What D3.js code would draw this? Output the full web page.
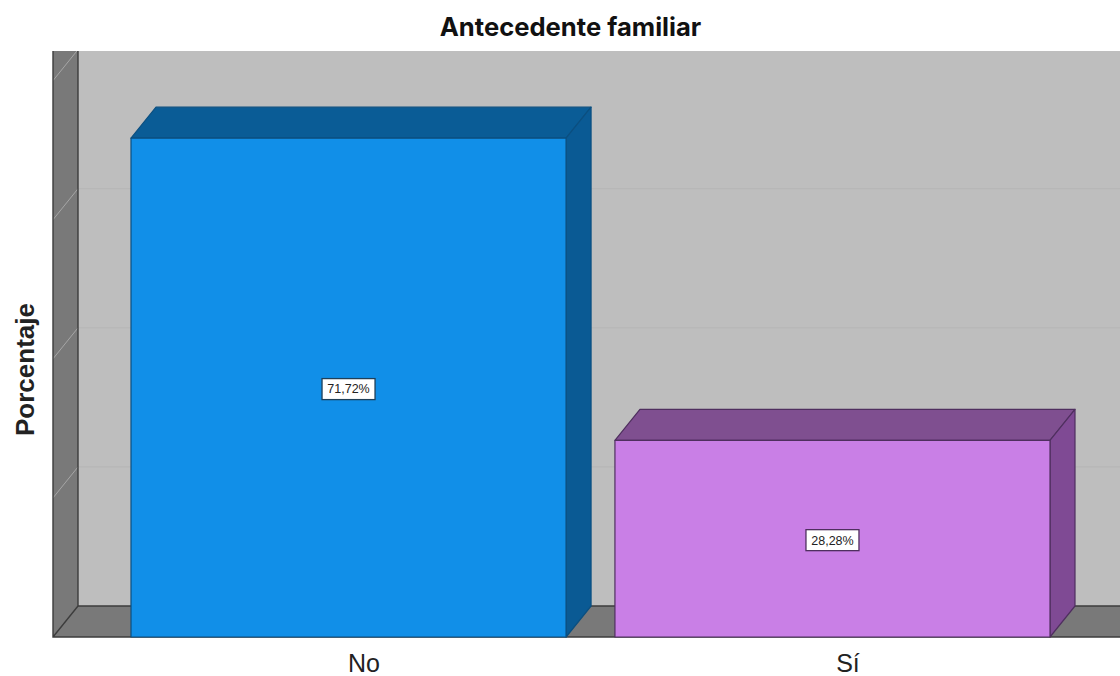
<!DOCTYPE html>
<html><head><meta charset="utf-8">
<script src="https://cdn.jsdelivr.net/npm/d3@7"></script>
<style>html,body{margin:0;padding:0;background:#fff}svg{display:block;font-family:"Liberation Sans",sans-serif}</style>
</head><body><div id="c"></div>
<script>
const categories = ["No", "Sí"];
const percentages = [71.72, 28.28];
const labels = ["71,72%", "28,28%"];
const gridValues = [20, 40, 60];
const wallTicks = [0, 20, 40, 60, 80];
const frontColors = ["#118fe8", "#c97fe6"];
const topColors = ["#0a5c96", "#7f4f90"];
const sideColors = ["#0a5a94", "#7f4a94"];
const edgeColors = ["#0b4f80", "#4f2f5f"];

const W = 1120, H = 676, dx = 25, dy = -31;
const svg = d3.select("#c").append("svg").attr("width", W).attr("height", H);
const x = d3.scaleBand().domain(categories).range([131, 1050]).paddingInner(0.101).paddingOuter(0);
const y = d3.scaleLinear().domain([0, 80]).range([637, 80.6]);
const wallTop = 51, x0 = 53, base = y(0);
const poly = pts => pts.map(p => p.join(",")).join(" ");

// back wall
svg.append("rect").attr("x", x0 + dx).attr("y", wallTop).attr("width", W - x0 - dx + 2).attr("height", base + dy - wallTop).attr("fill", "#bebebe");
svg.append("g").selectAll("line").data(gridValues).join("line")
  .attr("x1", x0 + dx).attr("x2", W).attr("y1", d => y(d) + dy).attr("y2", d => y(d) + dy)
  .attr("stroke", "#b6b6b6").attr("stroke-width", 1);
// left wall
svg.append("polygon").attr("points", poly([[x0, wallTop], [x0 + dx, wallTop], [x0 + dx, base + dy], [x0, base]])).attr("fill", "#797979");
svg.append("clipPath").attr("id", "wall").append("rect").attr("x", x0).attr("y", wallTop).attr("width", dx).attr("height", base - wallTop);
svg.append("g").attr("clip-path", "url(#wall)").selectAll("line").data(wallTicks.slice(1)).join("line")
  .attr("x1", x0).attr("x2", x0 + dx).attr("y1", d => y(d)).attr("y2", d => y(d) + dy)
  .attr("stroke", "#a6a6a6").attr("stroke-width", 1);
// floor
svg.append("polygon").attr("points", poly([[x0, base], [x0 + dx, base + dy], [W + 2, base + dy], [W + 2, base]])).attr("fill", "#797979");
const edge = "#3c3c3c";
svg.append("path").attr("fill", "none").attr("stroke", edge).attr("stroke-width", 1.4)
  .attr("d", `M${x0},${wallTop}V${base}H${W}M${x0},${base}L${x0 + dx},${base + dy}M${x0 + dx},${wallTop}V${base + dy}H${W}`);

// bars
const bars = svg.append("g").selectAll("g").data(categories).join("g");
bars.each(function (c, i) {
  const g = d3.select(this), l = x(c), r = l + x.bandwidth(), t = y(percentages[i]);
  const s = { stroke: edgeColors[i], "stroke-width": 1.2, "stroke-linejoin": "round" };
  const add = (pts, fill) => { const p = g.append("polygon").attr("points", poly(pts)).attr("fill", fill); Object.entries(s).forEach(([k, v]) => p.attr(k, v)); };
  add([[l, t], [l + dx, t + dy], [r + dx, t + dy], [r, t]], topColors[i]);
  add([[r, t], [r + dx, t + dy], [r + dx, base + dy], [r, base]], sideColors[i]);
  add([[l, t], [r, t], [r, base], [l, base]], frontColors[i]);
  const cx = (l + r) / 2, cy = (t + base) / 2 + 1.5;
  g.append("rect").attr("x", cx - 26.5).attr("y", cy - 10.5).attr("width", 53).attr("height", 21)
    .attr("fill", "#fff").attr("stroke", i === 0 ? "#1f3f58" : "#4f2f5f").attr("stroke-width", 1.3);
  g.append("text").attr("x", cx).attr("y", cy + 4.4).attr("text-anchor", "middle")
    .attr("font-size", 12.5).attr("fill", "#222").text(labels[i]);
  g.append("text").attr("x", cx + dx / 2 + 3).attr("y", 672).attr("text-anchor", "middle")
    .attr("font-size", 25).attr("fill", "#222").text(c);
});

svg.append("text").attr("x", 570.5).attr("y", 35.5).attr("text-anchor", "middle")
  .style("font-family", "Inter").attr("font-size", 25.6).attr("font-weight", 700).attr("fill", "#111").text("Antecedente familiar");
svg.append("text").attr("transform", "translate(33.5,369.5) rotate(-90)").attr("text-anchor", "middle")
  .attr("font-size", 26).attr("font-weight", 700).attr("fill", "#222").text("Porcentaje");
</script></body></html>
